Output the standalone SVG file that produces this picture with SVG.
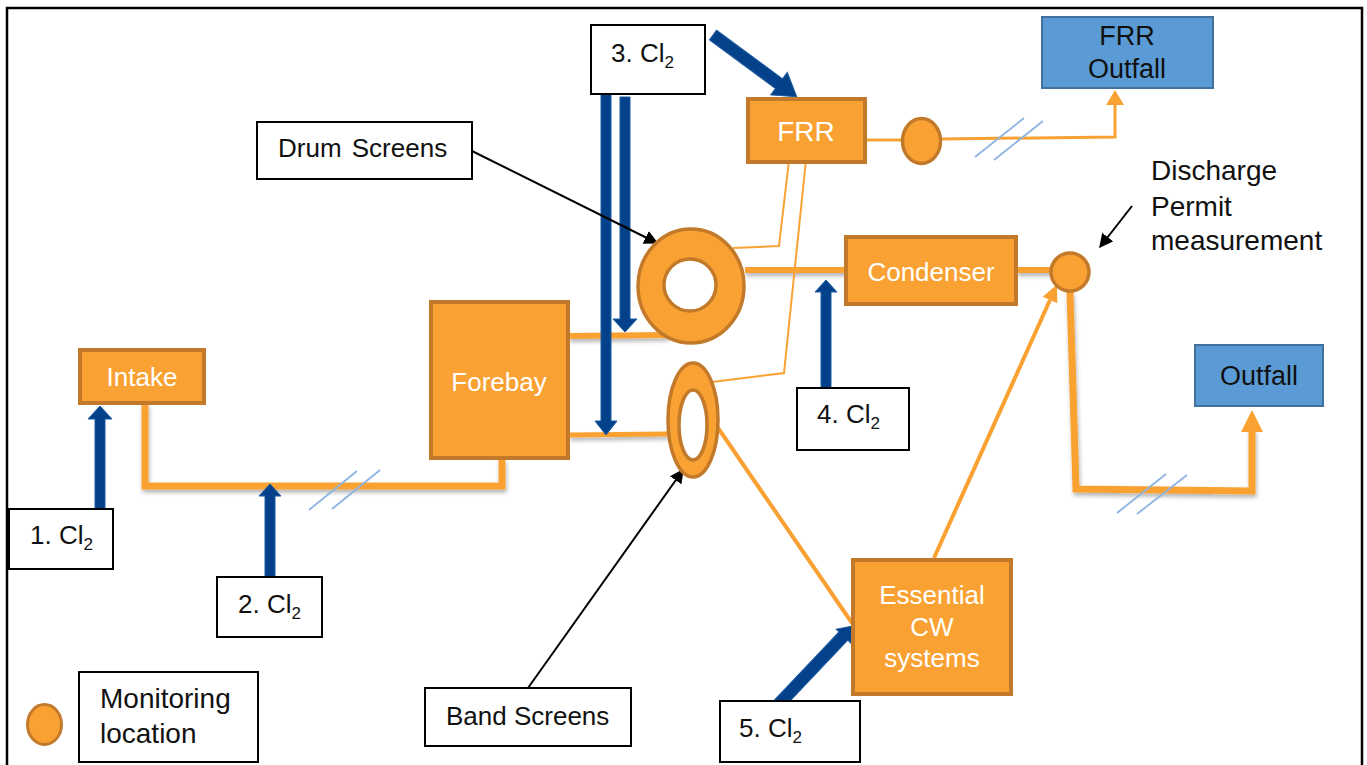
<svg xmlns="http://www.w3.org/2000/svg" width="1367" height="765" viewBox="0 0 1367 765">
<defs>
<style>
.box{fill:#F9A233;stroke:#C27A2A;stroke-width:4}
.wbox{fill:#fff;stroke:#000;stroke-width:2}
.bbox{fill:#5B9BD5;stroke:#41719C;stroke-width:2}
.pipe{fill:none;stroke:#F9A233;stroke-linejoin:miter}
.blue{fill:#03428A;stroke:#1F5AA0;stroke-width:1}
.ohead{fill:#F9A233}
.slash{stroke:#8DB4E2;stroke-width:1.8}
.t{font-family:"Liberation Sans",Arial,sans-serif;font-size:26px;fill:#111}
.w{font-family:"Liberation Sans",Arial,sans-serif;font-size:26px;fill:#fff;text-anchor:middle}
.sub{font-size:17px}
</style>
<filter id="sh" x="-10%" y="-50%" width="120%" height="200%">
<feDropShadow dx="1" dy="3" stdDeviation="2" flood-color="#000" flood-opacity="0.3"/>
</filter>
<marker id="ah" viewBox="0 0 10 10" refX="9" refY="5" markerWidth="10" markerHeight="10" markerUnits="userSpaceOnUse" orient="auto">
<path d="M0,0 L10,5 L0,10 z" fill="#000"/>
</marker>
<marker id="ahb" viewBox="0 0 10 10" refX="9" refY="5" markerWidth="14" markerHeight="14" markerUnits="userSpaceOnUse" orient="auto">
<path d="M0,0 L10,5 L0,10 z" fill="#000"/>
</marker>
</defs>
<rect width="1367" height="765" fill="#fff"/>
<path d="M7,765 V8 H1362 V765" fill="none" stroke="#000" stroke-width="2.5"/>

<g id="connectors">
<!-- orange pipes -->
<g filter="url(#sh)">
<path class="pipe" d="M145,404 V486 H502 V460" stroke-width="7"/>
<path class="pipe" d="M569,336 L668,335" stroke-width="6"/>
<path class="pipe" d="M569,435 L668,434" stroke-width="5"/>
<path class="pipe" d="M745,270 H846" stroke-width="6"/>
<path class="pipe" d="M1017,270 H1052" stroke-width="6"/>
<path class="pipe" d="M1070,292 L1076,489 L1252,491 V430" stroke-width="7"/>
</g>
<path class="pipe" d="M716,425 L852,623" stroke-width="4"/>
<path class="pipe" d="M934,558 L1050,300" stroke-width="4"/>
<polygon class="ohead" points="0,-8 17,0 0,8" transform="translate(1050,300) rotate(-65.8)"/>
<path class="pipe" d="M866,140 H902" stroke-width="3"/>
<path class="pipe" d="M942,139 L1115,137 V104" stroke-width="3"/>
<polygon class="ohead" points="1106,105 1115,90 1124,105"/>
<polygon class="ohead" points="1241,432 1252,410 1263,432"/>
<path class="pipe" d="M789,160 L779,246 L733,248" stroke-width="2"/>
<path class="pipe" d="M806,160 L784,373 L712,382" stroke-width="2"/>
<!-- break marks -->
<line class="slash" x1="309" y1="510" x2="357" y2="471"/>
<line class="slash" x1="332" y1="509" x2="380" y2="470"/>
<line class="slash" x1="975" y1="157" x2="1024" y2="118"/>
<line class="slash" x1="994" y1="160" x2="1043" y2="121"/>
<line class="slash" x1="1117" y1="513" x2="1166" y2="474"/>
<line class="slash" x1="1137" y1="514" x2="1187" y2="475"/>
<!-- chlorine dosing arrows -->
<polygon class="blue" points="95,511 95,419 88,419 100,406 112,419 105,419 105,511"/>
<polygon class="blue" points="265,578 265,496 259,496 270,484 281,496 275,496 275,578"/>
<polygon class="blue" points="821,389 821,292 815,292 826,280 837,292 831,292 831,389"/>
<polygon class="blue" points="601,92 601,421 595,421 606,435 617,421 611,421 611,92"/>
<polygon class="blue" points="620,97 620,319 613,319 625,332 637,319 630,319 630,97"/>
<polygon class="blue" points="0,-6 82,-6 82,-14 104,0 82,14 82,6 0,6" transform="translate(713,35) rotate(36.4)"/>
<polygon class="blue" points="0,-6 95,-6 95,-10 109,0 95,10 95,6 0,6" transform="translate(778,705) rotate(-46.5)"/>
<!-- label pointers -->
<line x1="472" y1="151" x2="657" y2="243" stroke="#000" stroke-width="2" marker-end="url(#ahb)"/>
<line x1="528" y1="688" x2="683" y2="470" stroke="#000" stroke-width="2" marker-end="url(#ahb)"/>
<line x1="1132" y1="206" x2="1100" y2="247" stroke="#000" stroke-width="2" marker-end="url(#ahb)"/>
</g>

<g id="intake"><rect class="box" x="80" y="350" width="124" height="53"/><text class="w" x="142" y="386">Intake</text></g>
<g id="forebay"><rect class="box" x="431" y="302" width="137" height="156"/><text class="w" x="499" y="391">Forebay</text></g>
<g id="drum-screen"><ellipse cx="691" cy="286" rx="53" ry="57" fill="#F9A233" stroke="#C27A2A" stroke-width="3.5"/><circle cx="690" cy="285" r="26" fill="#fff" stroke="#C27A2A" stroke-width="3.5"/></g>
<g id="band-screen"><ellipse cx="693" cy="420" rx="25" ry="57" fill="#F9A233" stroke="#C27A2A" stroke-width="3.5"/><ellipse cx="693" cy="425" rx="14" ry="35" fill="#fff" stroke="#C27A2A" stroke-width="3.5"/></g>
<g id="frr"><rect class="box" x="748" y="99" width="117" height="63"/><text class="w" x="806" y="141" style="font-size:28px">FRR</text></g>
<g id="frr-monitor"><ellipse cx="921.5" cy="141" rx="19" ry="22.5" fill="#F9A233" stroke="#C27A2A" stroke-width="3.5"/></g>
<g id="condenser"><rect class="box" x="846" y="237" width="170" height="67"/><text class="w" x="931" y="281">Condenser</text></g>
<g id="discharge-monitor"><circle cx="1070" cy="272" r="19" fill="#F9A233" stroke="#C27A2A" stroke-width="3.5"/></g>
<g id="essential-cw"><rect class="box" x="853" y="560" width="158" height="134"/><text class="w" x="932" y="604">Essential</text><text class="w" x="932" y="636">CW</text><text class="w" x="932" y="667">systems</text></g>
<g id="frr-outfall"><rect class="bbox" x="1042" y="17" width="171" height="71"/><text class="t" x="1127" y="45" text-anchor="middle" style="font-size:27px">FRR</text><text class="t" x="1127" y="78" text-anchor="middle" style="font-size:27px">Outfall</text></g>
<g id="outfall"><rect class="bbox" x="1195" y="345" width="128" height="61"/><text class="t" x="1259" y="385" text-anchor="middle" style="font-size:27px">Outfall</text></g>

<g id="cl2-1"><rect class="wbox" x="9" y="509" width="104" height="60"/><text class="t" x="30" y="544">1. Cl<tspan class="sub" dy="6">2</tspan></text></g>
<g id="cl2-2"><rect class="wbox" x="217" y="577" width="105" height="60"/><text class="t" x="238" y="613">2. Cl<tspan class="sub" dy="6">2</tspan></text></g>
<g id="cl2-3"><rect class="wbox" x="591" y="25" width="114" height="69"/><text class="t" x="611" y="62">3. Cl<tspan class="sub" dy="6">2</tspan></text></g>
<g id="cl2-4"><rect class="wbox" x="797" y="388" width="112" height="62"/><text class="t" x="817" y="423">4. Cl<tspan class="sub" dy="6">2</tspan></text></g>
<g id="cl2-5"><rect class="wbox" x="720" y="701" width="140" height="61"/><text class="t" x="739" y="737">5. Cl<tspan class="sub" dy="6">2</tspan></text></g>

<g id="drum-label"><rect class="wbox" x="257" y="122" width="215" height="57"/><text class="t" x="278" y="157" word-spacing="3">Drum Screens</text></g>
<g id="band-label"><rect class="wbox" x="425" y="688" width="206" height="58"/><text class="t" x="446" y="725">Band Screens</text></g>
<g id="discharge-label"><text class="t" x="1151" y="180" style="font-size:28px">Discharge</text><text class="t" x="1151" y="216" style="font-size:28px">Permit</text><text class="t" x="1151" y="250" style="font-size:28px">measurement</text></g>
<g id="legend"><ellipse cx="44.5" cy="724.5" rx="17" ry="20" fill="#F9A233" stroke="#C27A2A" stroke-width="3"/><rect class="wbox" x="79" y="672" width="179" height="90"/><text class="t" x="100" y="708" style="font-size:28px">Monitoring</text><text class="t" x="100" y="743" style="font-size:28px">location</text></g>
</svg>
